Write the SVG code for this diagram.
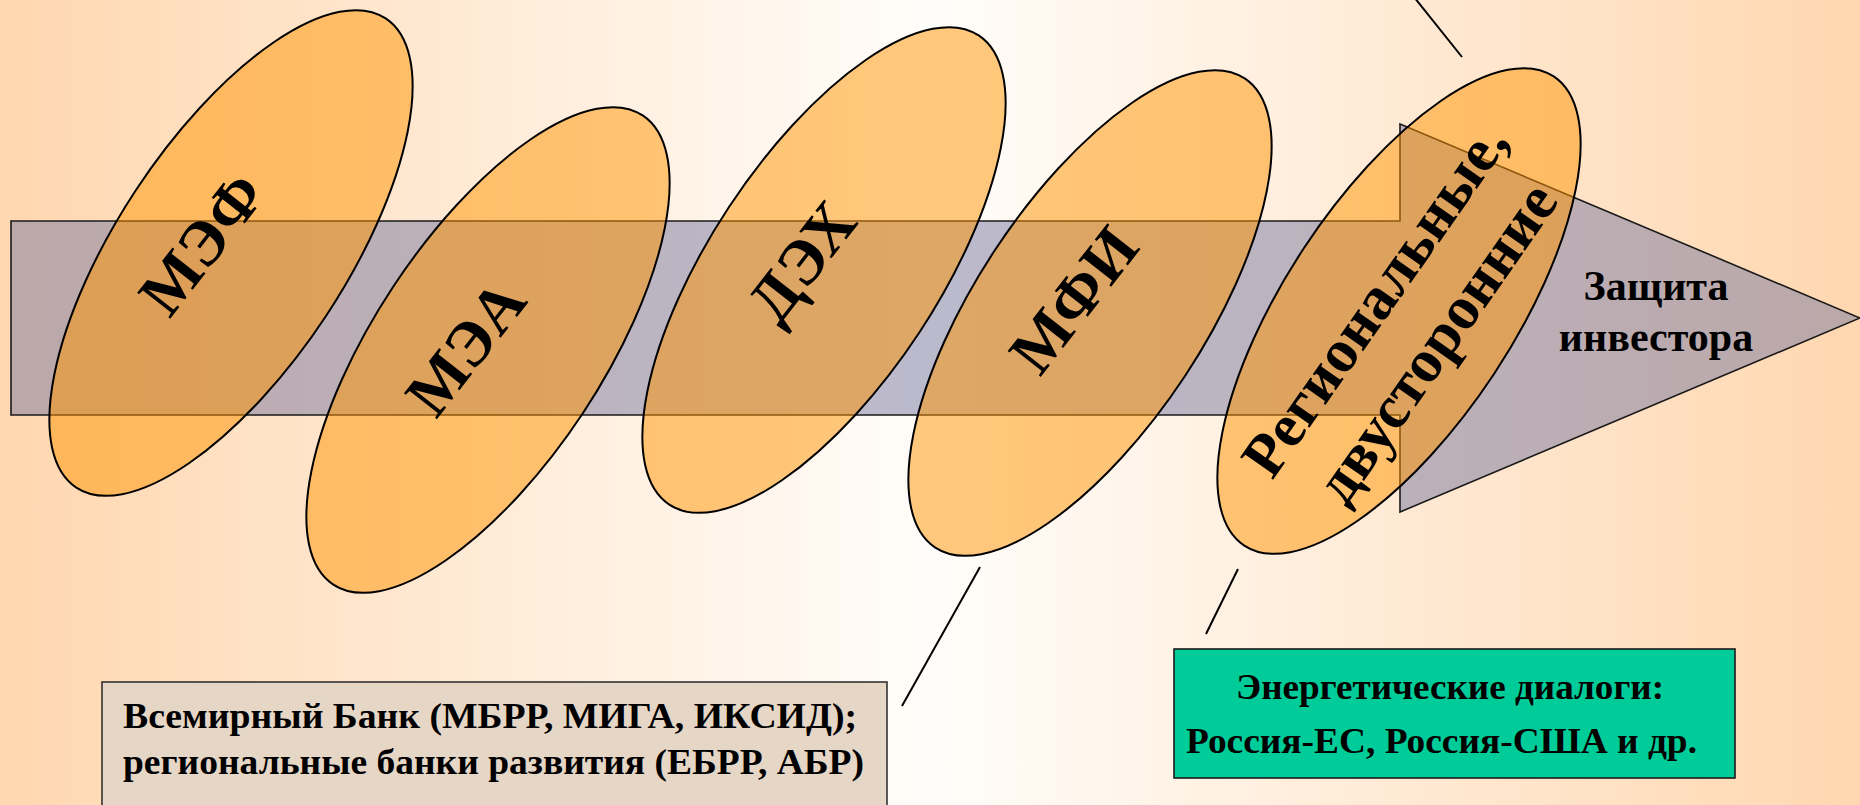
<svg xmlns="http://www.w3.org/2000/svg" width="1860" height="805" viewBox="0 0 1860 805">
  <defs>
    <linearGradient id="bg" x1="0" y1="0" x2="1" y2="0">
      <stop offset="0" stop-color="#ffd7b0"/>
      <stop offset="0.5" stop-color="#fffdfa"/>
      <stop offset="1" stop-color="#ffd7b0"/>
    </linearGradient>
    <style>
      .arrow { fill: #7878a0; fill-opacity: 0.5; stroke: #1a1a1a; stroke-width: 1.6; }
      .ell { fill: #ff9300; fill-opacity: 0.5; stroke: #000; stroke-width: 2; }
      .lbl { font-family: "Liberation Serif", "Times New Roman", serif; font-weight: bold; fill: #000; text-anchor: middle; }
      .big { font-size: 64px; }
      .mid { font-size: 61px; }
      .box { font-family: "Liberation Serif", "Times New Roman", serif; font-weight: bold; font-size: 36px; fill: #000; }
      .conn { stroke: #000; stroke-width: 2; fill: none; }
    </style>
  </defs>
  <rect x="0" y="0" width="1860" height="805" fill="url(#bg)"/>

  <g id="arrow">
    <polygon class="arrow" points="11,221 1400,221 1400,124 1860,318 1400,512 1400,415 11,415"/>
    <text class="lbl" style="font-size:42px" x="1656" y="300">Защита</text>
    <text class="lbl" style="font-size:42px" x="1656" y="351">инвестора</text>
  </g>

  <g id="node-mef">
    <ellipse class="ell" cx="231" cy="253" rx="281" ry="114" transform="rotate(-56.6 231 253)"/>
    <text class="lbl big" x="202" y="265" transform="rotate(-52 202 244)">МЭФ</text>
  </g>
  <g id="node-mea">
    <ellipse class="ell" cx="488" cy="350" rx="281" ry="114" transform="rotate(-56.6 488 350)"/>
    <text class="lbl big" x="466" y="369" transform="rotate(-52 466 348)">МЭА</text>
  </g>
  <g id="node-deh">
    <ellipse class="ell" cx="824" cy="270" rx="281" ry="114" transform="rotate(-56.6 824 270)"/>
    <text class="lbl big" x="802" y="283" transform="rotate(-52 802 262)">ДЭХ</text>
  </g>
  <g id="node-mfi">
    <ellipse class="ell" cx="1090" cy="313" rx="281" ry="114" transform="rotate(-56.6 1090 313)"/>
    <text class="lbl big" x="1074" y="321" transform="rotate(-52 1074 300)">МФИ</text>
  </g>
  <g id="node-regional">
    <ellipse class="ell" cx="1399" cy="311" rx="281" ry="114" transform="rotate(-56.6 1399 311)"/>
    <g transform="rotate(-55 1405 321)">
      <text class="lbl mid" x="1405" y="304">Региональные,</text>
      <text class="lbl mid" x="1405" y="379">двусторонние</text>
    </g>
  </g>

  <g id="connectors">
    <line class="conn" x1="1410" y1="-8" x2="1462" y2="57"/>
    <line class="conn" x1="980" y1="567" x2="902" y2="706"/>
    <line class="conn" x1="1238" y1="569" x2="1206" y2="634"/>
  </g>

  <g id="box-worldbank">
    <rect x="102" y="682" width="785" height="140" fill="#e6d6c6" stroke="#333" stroke-width="1.6"/>
    <text class="box" x="123" y="728" textLength="734" lengthAdjust="spacingAndGlyphs">Всемирный Банк (МБРР, МИГА, ИКСИД);</text>
    <text class="box" x="123" y="774" textLength="741" lengthAdjust="spacingAndGlyphs">региональные банки развития (ЕБРР, АБР)</text>
  </g>

  <g id="box-dialogues">
    <rect x="1174" y="649" width="561" height="129" fill="#00cc99" stroke="#1a1a1a" stroke-width="1.6"/>
    <text class="box" x="1236" y="699" textLength="428" lengthAdjust="spacingAndGlyphs">Энергетические диалоги:</text>
    <text class="box" x="1186" y="753" textLength="511" lengthAdjust="spacingAndGlyphs">Россия-ЕС, Россия-США и др.</text>
  </g>
</svg>
